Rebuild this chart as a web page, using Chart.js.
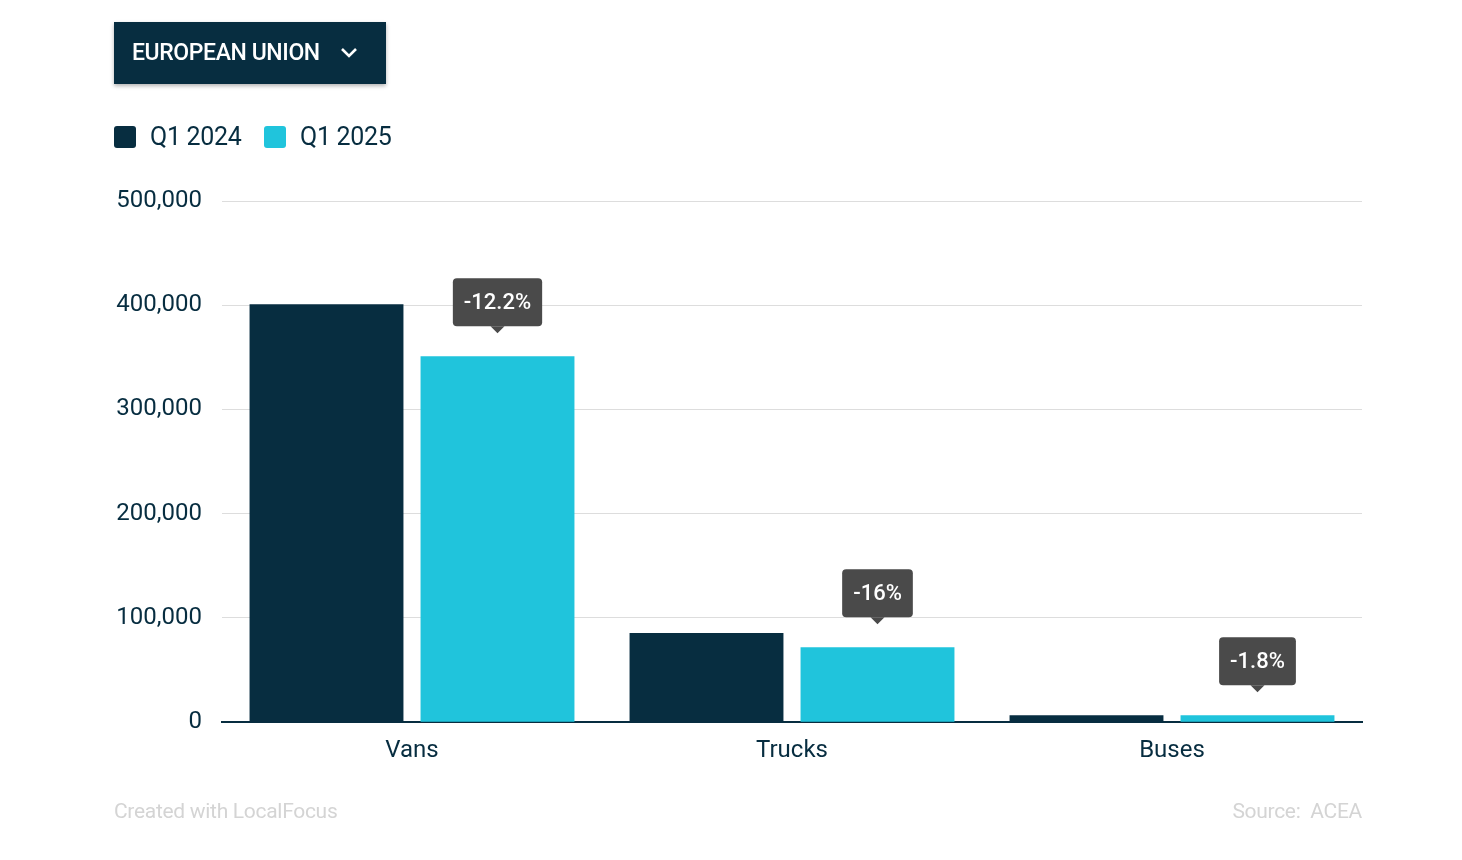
<!DOCTYPE html>
<html><head><meta charset="utf-8">
<script src="https://cdn.jsdelivr.net/npm/chart.js@4"></script>
<style>
body{margin:0;background:#fff;font-family:Roboto,sans-serif;}
#wrap{position:relative;width:1462px;height:860px;}
#c{position:absolute;left:0;top:0;}
.dd{position:absolute;left:114px;top:22px;width:272px;height:62px;background:#072d40;color:#fff;font-size:23px;font-weight:500;box-shadow:0 2px 4px rgba(0,0,0,.3);box-sizing:border-box;padding-left:18px;line-height:62px;letter-spacing:-0.4px}
.leg{position:absolute;top:122px;font-size:25px;color:#072d40;display:flex;align-items:center;letter-spacing:-0.3px}
.leg span{display:inline-block;width:22px;height:22px;border-radius:3px;margin-right:14px}
.foot{position:absolute;top:799px;font-size:21px;color:#d4d4d4;letter-spacing:-0.3px}
</style></head><body>
<div id="wrap">
<canvas id="c" width="1462" height="860"></canvas>
<div class="dd">EUROPEAN UNION <svg width="20" height="14" style="margin-left:14px" viewBox="0 0 20 14"><path d="M3 3 L10 10 L17 3" stroke="#fff" stroke-width="2.6" fill="none"/></svg></div>
<div class="leg" style="left:114px"><span style="background:#072d40"></span>Q1 2024</div>
<div class="leg" style="left:264px"><span style="background:#20c4dc"></span>Q1 2025</div>
<div class="foot" style="left:114px">Created with LocalFocus</div>
<div class="foot" style="right:100px">Source:&nbsp; ACEA</div>
</div>
<script>
const categories=["Vans","Trucks","Buses"];
const q2024=[401000,85600,6700];
const q2025=[351000,72000,6600];
const changes=["-12.2%","-16%","-1.8%"];
const ticks=[0,100000,200000,300000,400000,500000];
const annot={id:'annot',afterDatasetsDraw(ch){
 const ctx=ch.ctx,meta=ch.getDatasetMeta(1);
 meta.data.forEach((b,i)=>{
  const t=changes[i];ctx.font='500 22px Roboto';
  const w=ctx.measureText(t).width+22,h=48,x=b.x,y=b.y-30;
  ctx.fillStyle='#4a4a4a';
  ctx.beginPath();ctx.roundRect(x-w/2,y-h,w,h,4);ctx.fill();
  ctx.beginPath();ctx.moveTo(x-7,y);ctx.lineTo(x+7,y);ctx.lineTo(x,y+7);ctx.fill();
  ctx.fillStyle='#fff';ctx.textAlign='center';ctx.textBaseline='middle';ctx.fillText(t,x,y-h/2+1);
 });}};
new Chart(document.getElementById('c'),{type:'bar',
 data:{labels:categories,datasets:[
  {label:'Q1 2024',data:q2024,backgroundColor:'#072d40'},
  {label:'Q1 2025',data:q2025,backgroundColor:'#20c4dc'}]},
 options:{responsive:false,animation:false,
  layout:{padding:{left:100,right:100,top:201,bottom:89}},
  datasets:{bar:{categoryPercentage:0.9,barPercentage:0.9}},
  plugins:{legend:{display:false},tooltip:{enabled:false}},
  scales:{
   x:{grid:{display:false},border:{color:'#072d40',width:2},ticks:{color:'#072d40',font:{size:24,family:'Roboto'},padding:6}},
   y:{min:0,max:500000,afterFit(s){s.width=122;},afterBuildTicks(s){s.ticks=ticks.map(v=>({value:v}));},
    grid:{color:'#dddddd',drawTicks:false},border:{display:false},
    ticks:{color:'#072d40',font:{size:24,family:'Roboto'},padding:20,callback:v=>v.toLocaleString('en-US')}}}},
 plugins:[annot]});
</script></body></html>
